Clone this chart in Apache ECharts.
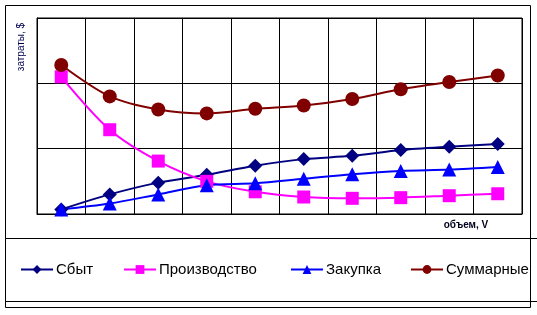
<!DOCTYPE html>
<html>
<head>
<meta charset="utf-8">
<script src="https://cdn.jsdelivr.net/npm/echarts@6/dist/echarts.min.js"></script>
<style>
  html, body { margin: 0; padding: 0; background: #fff; }
  #chart { width: 537px; height: 315px; }
</style>
</head>
<body>
<div id="chart"></div>
<script>
// values (vertical scale 0..300, labels hidden)
const categories = ['1', '2', '3', '4', '5', '6', '7', '8', '9', '10'];
const sbyt = [7, 30, 48, 60, 74, 84, 89, 98, 103, 107];
const proizv = [210, 129, 81, 50, 34, 26, 24, 25, 28, 31];
const zakupka = [7, 16, 30, 44, 47, 54, 61, 66, 68, 72];
const summ = [228, 180, 160, 154, 161, 166, 176, 191, 202, 212];

const names = ['Сбыт', 'Производство', 'Закупка', 'Суммарные'];

let myChart = echarts.init(document.getElementById('chart'));

function makeSeries(name, data, color, symbol, size) {
  return {
    name: name,
    type: 'line',
    data: data,
    smooth: 0.3,
    symbol: symbol,
    symbolSize: size,
    showAllSymbol: true,
    animation: false,
    lineStyle: { color: color, width: 2 },
    itemStyle: { color: color }
  };
}

function legendAt(name, left) {
  return {
    data: [name],
    left: left,
    top: 262,
    itemWidth: 32,
    itemHeight: 11,
    padding: 0,
    textStyle: { fontFamily: 'Arial', fontSize: 15, color: '#000', padding: [0, 0, 0, -2] }
  };
}

const option = {
  backgroundColor: '#fff',
  grid: { left: 37, top: 18, right: 15, bottom: 101, show: true, borderColor: '#000', borderWidth: 1 },
  xAxis: {
    type: 'category',
    data: categories,
    boundaryGap: true,
    axisLine: { lineStyle: { color: '#000' } },
    axisTick: { show: false },
    axisLabel: { show: false },
    splitLine: { show: true, interval: 0, lineStyle: { color: '#000', width: 1 } }
  },
  yAxis: {
    type: 'value',
    min: 0,
    max: 300,
    interval: 100,
    axisLine: { show: true, lineStyle: { color: '#000' } },
    axisTick: { show: false },
    axisLabel: { show: false },
    splitLine: { lineStyle: { color: '#000', width: 1 } }
  },
  legend: [
    legendAt(names[0], 20),
    legendAt(names[1], 123),
    legendAt(names[2], 290),
    legendAt(names[3], 410)
  ],
  graphic: [
    { type: 'rect', shape: { x: 5.5, y: 5.5, width: 525, height: 302 }, style: { fill: null, stroke: '#000', lineWidth: 1 }, z: -1 },
    { type: 'line', shape: { x1: 5, y1: 238.5, x2: 537, y2: 238.5 }, style: { stroke: '#000', lineWidth: 1 } },
    { type: 'line', shape: { x1: 5, y1: 301.5, x2: 537, y2: 301.5 }, style: { stroke: '#000', lineWidth: 1 } },
    {
      type: 'text', x: 21, y: 47, rotation: Math.PI / 2,
      style: { text: 'затраты, $', fontFamily: 'Arial', fontSize: 10, fill: '#000050', align: 'center', verticalAlign: 'middle' }
    },
    {
      type: 'text', x: 466, y: 225,
      style: { text: 'объем, V', fontFamily: 'Arial', fontSize: 10, fontWeight: 'bold', fill: '#000020', align: 'center', verticalAlign: 'middle' }
    }
  ],
  series: [
    makeSeries(names[0], sbyt, '#000080', 'diamond', 14),
    makeSeries(names[1], proizv, '#FF00FF', 'rect', 13),
    makeSeries(names[2], zakupka, '#0000FF', 'triangle', 14),
    makeSeries(names[3], summ, '#800000', 'circle', 14)
  ]
};

myChart.setOption(option);
</script>
</body>
</html>
